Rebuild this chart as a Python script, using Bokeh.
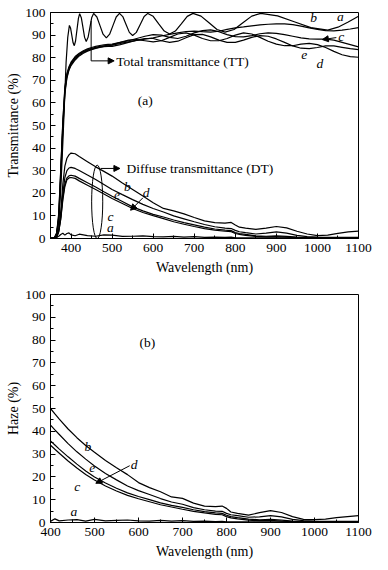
from bokeh.plotting import figure
from bokeh.models import Range1d, Label, Arrow, NormalHead, FixedTicker
from bokeh.layouts import column
from bokeh.embed import file_html
from bokeh.resources import INLINE

FONT = "Liberation Serif"

# ---------------- Panel (a): total transmittance ----------------
wl_tt_a = [350, 360, 365, 370, 375, 380, 384, 388, 392, 396, 399, 402, 405, 408,
           411, 414.5, 418, 421, 425, 429, 433, 437, 441.5, 446, 450.5, 455,
           463, 470.5, 478, 486, 494, 502, 510, 518, 526, 534, 542, 550,
           559, 568.5, 578, 587, 600, 613.5, 627, 640, 654, 668.5, 683, 697,
           716.5, 736, 755.5, 775, 797, 818.5, 840, 862, 903, 943.5, 984, 1025,
           1050, 1075, 1100]
tt_a = [0.0, 0.3, 2, 8, 22, 42, 60, 78, 89, 94.3, 93.0, 89.8, 86.6, 85.3,
        87.4, 92.4, 97.4, 99.5, 97.7, 93.4, 89.0, 87.2, 89.0, 93.4, 97.8, 99.6,
        98.0, 94.2, 90.4, 88.8, 90.4, 94.2, 98.0, 99.6, 98.2, 94.7, 91.2, 89.8,
        91.2, 94.7, 98.2, 99.6, 98.3, 95.0, 91.8, 90.5, 91.8, 95.0, 98.3, 99.6,
        98.4, 95.5, 92.5, 91.3, 92.5, 95.5, 98.4, 99.6, 98.5, 95.9, 93.3, 92.2,
        93.5, 95.8, 98.3]

wl_tt = [350, 360, 365, 370, 375, 380, 385, 390, 395, 400, 410, 420, 430, 440,
         450, 460, 470, 480, 490, 500, 520, 540, 560, 580, 600, 620, 640, 660,
         680, 700, 720, 740, 760, 780, 800, 820, 840, 860, 880, 900, 920, 940,
         960, 980, 1000, 1020, 1040, 1060, 1080, 1100]
tt_b = [0, 0.3, 1.5, 8, 27, 48, 64, 71, 74.5, 76.5, 79, 80.8, 82, 82.9, 83.5, 84.1,
        84.6, 85.0, 85.3,
        85.5, 86.3, 87, 87.6, 88.2, 88.8, 89.6, 90.3, 91, 91.6, 91.8, 91.5, 91.3,
        91.7, 92.5, 93.2, 93.6, 94.1, 94.5, 94.8, 95.0, 95.0, 94.6, 94, 93.2, 92.5,
        92, 91.9, 92.2, 92.7, 93.3]
tt_c = [0, 0.5, 2.5, 11, 31, 52, 67, 73, 76, 78, 80.5, 82, 83.1, 83.9, 84.5, 85,
        85.4, 85.7, 85.9,
        86, 86.8, 87.5, 88.5, 89.5, 90.2, 90, 89, 88.5, 89.5, 91, 92, 92.3, 91.5,
        90.2, 89.3, 89.2, 89.8, 90.6, 91, 90.8, 90.2, 89.5, 88.8, 88.3, 88.2, 88.2,
        87.8, 86.8, 85.8, 84.8]
tt_d = [0, 0.4, 2.2, 10, 30, 51, 66, 72.5, 75.5, 77.5, 80, 81.6, 82.7, 83.5, 84.1,
        84.6, 85, 85.3, 85.5,
        85.7, 86.8, 87.8, 88, 87.5, 87, 87.5, 89, 90.5, 91, 90, 88.5, 87.5, 87.5,
        88.5, 90, 91, 90.5, 89, 87.3, 86, 85.3, 85.3, 86, 86.3, 85.8, 84.5, 82.8,
        81.3, 80.5, 80.2]
tt_e = [0, 0.3, 1.8, 9, 28, 49, 65, 71.5, 75, 77, 79.6, 81.2, 82.4, 83.2, 83.8,
        84.3, 84.7, 84.9, 85,
        85, 85.8, 86.8, 87.8, 88.5, 88.5, 87.5, 86.8, 87.3, 88.8, 90.2, 90.3, 89.2,
        87.8, 86.8, 86.8, 87.8, 89, 89.8, 89.5, 88.3, 86.8, 85.2, 84.2, 84, 84.5,
        85.2, 85.2, 84.6, 84, 83.6]

# ---------------- Panel (a): diffuse transmittance ----------------
wl_dt = [350, 360, 365, 370, 375, 380, 385, 390, 395, 400, 410, 420, 440, 460,
         480, 500, 525, 550, 575, 600, 625, 650, 675, 700, 725, 750, 775, 790,
         800, 810, 825, 850, 875, 900, 925, 950, 975, 1000, 1025, 1050, 1075, 1100]
dt_a = [0.2, 0.3, 0.5, 1.0, 1.8, 2.3, 1.5, 2.2, 2.5, 1.6, 1.2, 1.9, 1.3, 1.0, 1.6,
        1.5, 0.9, 1.0, 1.2, 0.8, 0.7, 0.9, 0.6, 0.8, 0.5, 0.6, 0.5, 0.6, 0.3, 0.3,
        0.3, 0.3, 0.3, 0.3, 0.3, 0.3, 0.3, 0.3, 0.3, 0.3, 0.3, 0.3]
dt_b = [0.2, 0.3, 0.8, 4, 12, 24, 32, 35.5, 37, 37.8, 37.5, 36.3, 34, 31.7, 29.7,
        27.6, 24.6, 21.7, 18.8, 15.8, 13.3, 12.2, 10.9, 9.3, 7.8, 7.0, 6.8, 7.1,
        6.0, 5.0, 4.6, 4.0, 4.6, 5.3, 4.7, 3.2, 2.0, 1.3, 1.5, 2.3, 2.9, 3.3]
dt_c = [0.2, 0.3, 0.6, 3, 8.5, 17, 23, 26, 26.8, 27, 26.6, 25.5, 23.6, 21.7, 19.7,
        17.7, 15.5, 13.3, 11.5, 10.1, 8.8, 7.4, 6.3, 5.3, 4.4, 3.7, 3.2, 3.0, 2.2,
        1.8, 1.4, 0.9, 0.7, 0.8, 0.6, 0.4, 0.3, 0.3, 0.3, 0.3, 0.3, 0.3]
dt_d = [0.2, 0.3, 0.6, 3, 9, 18, 24, 26.8, 27.7, 28, 27.6, 26.6, 24.7, 22.8, 20.7,
        18.7, 16.4, 14.0, 12.2, 10.7, 9.5, 8.2, 7.0, 6.0, 5.0, 4.2, 3.7, 3.5, 2.6,
        2.2, 1.8, 1.2, 1.0, 1.2, 0.9, 0.6, 0.4, 0.3, 0.3, 0.3, 0.3, 0.3]
dt_e = [0.2, 0.3, 0.7, 3.5, 10, 20, 27, 30, 31.2, 31.5, 31, 30.1, 28.1, 26.1, 23.9,
        21.7, 19.4, 17.2, 15.1, 13.3, 11.7, 10.0, 8.7, 7.4, 6.2, 5.2, 4.6, 4.4, 3.6,
        3.0, 2.6, 2.0, 2.4, 2.9, 2.4, 1.4, 0.8, 0.6, 0.5, 0.5, 0.5, 0.5]

# ---------------- Panel (b): haze ----------------
wl_hz = [400, 410, 420, 440, 460, 480, 500, 525, 550, 575, 600, 625, 650, 675, 700,
         725, 750, 775, 790, 800, 810, 825, 850, 875, 900, 925, 950, 975, 1000,
         1025, 1050, 1075, 1100]
hz_a = [0.5, 1.6, 0.7, 1.1, 1.3, 0.6, 1.4, 0.7, 0.9, 1.1, 0.7, 0.6, 0.9, 0.6, 0.8,
        0.5, 0.6, 0.4, 0.5, 0.3, 0.3, 0.3, 0.3, 0.3, 0.3, 0.3, 0.3, 0.3, 0.3, 0.3,
        0.3, 0.3, 0.3]
hz_b = [50.0, 47.6, 45.3, 41.0, 37.2, 33.8, 30.8, 27.2, 24.0, 21.0, 17.5, 15.3,
        13.5, 11.2, 10.6, 8.5, 7.2, 7.0, 7.2, 6.2, 4.6, 4.0, 3.2, 4.3, 5.2, 4.4,
        2.6, 1.4, 1.3, 1.5, 2.1, 2.6, 3.0]
hz_c = [33.9, 32.1, 30.4, 27.0, 23.9, 21.1, 18.6, 16.0, 13.8, 11.9, 10.4, 9.1, 7.8,
        6.8, 5.8, 4.9, 4.2, 3.6, 3.4, 2.6, 2.0, 1.6, 1.0, 0.8, 0.9, 0.6, 0.4, 0.3,
        0.3, 0.3, 0.3, 0.3, 0.3]
hz_d = [35.8, 34.0, 32.2, 28.8, 25.6, 22.6, 20.0, 17.3, 15.0, 13.0, 11.4, 10.0, 8.6,
        7.5, 6.6, 5.6, 4.8, 4.2, 4.0, 3.2, 2.6, 2.1, 1.5, 1.2, 1.4, 1.0, 0.6, 0.4,
        0.3, 0.3, 0.3, 0.3, 0.3]
hz_e = [42.7, 40.6, 38.6, 34.6, 31.0, 27.8, 24.8, 21.5, 18.7, 16.0, 14.0, 12.3, 10.5,
        9.0, 8.0, 6.5, 5.6, 5.0, 4.9, 4.0, 3.4, 3.0, 2.3, 2.5, 3.0, 2.5, 1.4, 0.8,
        0.6, 0.5, 0.5, 0.5, 0.5]

x_ticks = [400, 500, 600, 700, 800, 900, 1000, 1100]
x_minor = [350, 450, 550, 650, 750, 850, 950, 1050]
y_ticks = [0, 10, 20, 30, 40, 50, 60, 70, 80, 90, 100]
y_minor = [5, 15, 25, 35, 45, 55, 65, 75, 85, 95]


def style(p, ylabel):
    p.toolbar_location = None
    p.grid.visible = False
    p.outline_line_color = "black"
    p.outline_line_width = 1
    p.background_fill_color = "white"
    p.border_fill_color = "white"
    for ax in (p.xaxis[0], p.yaxis[0]):
        ax.axis_line_color = "black"
        ax.major_tick_in = 5
        ax.major_tick_out = 0
        ax.minor_tick_in = 3
        ax.minor_tick_out = 0
        ax.major_label_text_font = FONT
        ax.major_label_text_font_size = "13.5px"
        ax.major_label_text_color = "black"
        ax.axis_label_text_font = FONT
        ax.axis_label_text_font_size = "14px"
        ax.axis_label_text_font_style = "normal"
        ax.axis_label_text_color = "black"
    p.xaxis[0].ticker = FixedTicker(ticks=x_ticks, minor_ticks=x_minor)
    p.yaxis[0].ticker = FixedTicker(ticks=y_ticks, minor_ticks=y_minor)
    p.xaxis[0].axis_label = "Wavelength (nm)"
    p.yaxis[0].axis_label = ylabel
    p.xaxis[0].major_label_standoff = 5
    p.xaxis[0].axis_label_standoff = 5
    p.yaxis[0].major_label_standoff = 5
    p.yaxis[0].axis_label_standoff = 1


def txt(p, x, y, s, italic=False, align="center", size="13.5px"):
    p.add_layout(Label(x=x, y=y, text=s, text_font=FONT, text_font_size=size,
                       text_font_style="italic" if italic else "normal",
                       text_align=align, text_baseline="middle", text_color="black"))


def arrow(p, x0, y0, x1, y1, head=True):
    p.add_layout(Arrow(x_start=x0, y_start=y0, x_end=x1, y_end=y1,
                       line_color="black", line_width=1,
                       end=NormalHead(size=6, fill_color="black", line_color="black") if head else None))


LW = 1.2

# ---------- top figure ----------
p1 = figure(frame_width=308, frame_height=226, output_backend="svg",
            toolbar_location=None, x_range=Range1d(350, 1100), y_range=Range1d(0, 100),
            min_border_left=50, min_border_right=24, min_border_top=12, min_border_bottom=42)
style(p1, "Transmittance (%)")

p1.line(wl_tt_a, tt_a, line_color="black", line_width=LW)
for ys in (tt_b, tt_c, tt_d, tt_e):
    p1.line(wl_tt, ys, line_color="black", line_width=LW)
for ys in (dt_a, dt_b, dt_c, dt_d, dt_e):
    p1.line(wl_dt, ys, line_color="black", line_width=LW)

# annotations
arrow(p1, 449, 96.3, 449, 78.6, head=False)
arrow(p1, 449, 78.6, 505, 78.6)
txt(p1, 510, 78.2, "Total transmittance (TT)", align="left")
txt(p1, 581, 61, "(a)")
p1.ellipse(x=[463.7], y=[16.2], width=[27], height=[32.5], fill_color=None,
           line_color="black", line_width=1)
arrow(p1, 472, 31, 519, 31)
txt(p1, 535, 31, "Diffuse transmittance (DT)", align="left")
txt(p1, 496, 4.9, "a", italic=True)
txt(p1, 496, 9.9, "c", italic=True)
txt(p1, 512, 19.2, "e", italic=True)
txt(p1, 537, 23.1, "b", italic=True)
txt(p1, 583, 20.5, "d", italic=True)
arrow(p1, 575, 18, 545, 12.5)
txt(p1, 991, 98, "b", italic=True)
txt(p1, 1056, 98.3, "a", italic=True)
txt(p1, 1058, 89.2, "c", italic=True)
arrow(p1, 1046, 88.9, 1012, 88)
txt(p1, 968, 81.1, "e", italic=True)
txt(p1, 1006, 77.4, "d", italic=True)

# ---------- bottom figure ----------
p2 = figure(frame_width=308, frame_height=228, output_backend="svg",
            toolbar_location=None, x_range=Range1d(400, 1100), y_range=Range1d(0, 100),
            min_border_left=50, min_border_right=24, min_border_top=14, min_border_bottom=40)
style(p2, "Haze (%)")
for ys in (hz_a, hz_b, hz_c, hz_d, hz_e):
    p2.line(wl_hz, ys, line_color="black", line_width=LW)

txt(p2, 620, 79, "(b)")
txt(p2, 485, 33.3, "b", italic=True)
txt(p2, 495, 23.7, "e", italic=True)
txt(p2, 461, 16, "c", italic=True)
txt(p2, 590, 25.6, "d", italic=True)
arrow(p2, 580, 24.9, 503, 17.2)
txt(p2, 453, 4.7, "a", italic=True)

layout = column(p1, p2)
open("out.html", "w").write(file_html(layout, INLINE))
